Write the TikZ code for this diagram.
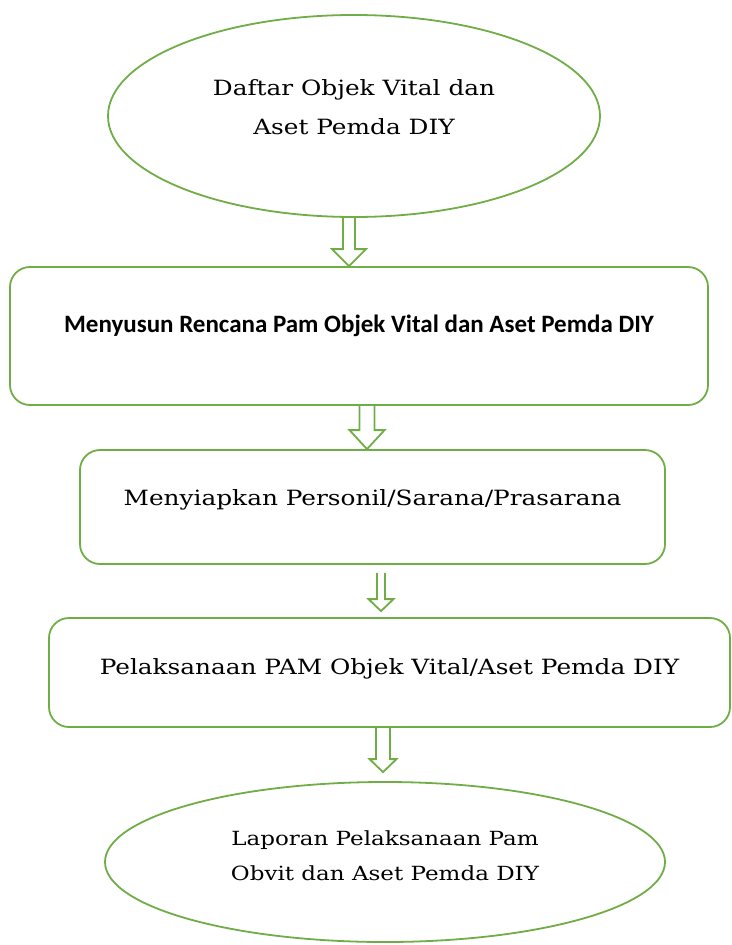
\documentclass[tikz,border=0pt]{standalone}
\usepackage{fontspec}
\usetikzlibrary{shapes.geometric,calc}
\newfontfamily\slabfont[FakeStretch=1.18]{DejaVu Serif}
\newfontfamily\boxfont{Carlito}
\definecolor{flowgreen}{RGB}{112,173,71}

\tikzset{
  outline/.style={draw=flowgreen, line width=1.8pt},
  oval/.style={outline, ellipse, inner sep=0pt},
  stepbox/.style={outline, rounded corners=20pt, inner sep=0pt},
  slabtext/.style={font=\slabfont\fontsize{21}{39}\selectfont, align=center, inner sep=0pt},
  sanstext/.style={font=\boxfont\bfseries\fontsize{25}{30}\selectfont, inner sep=0pt},
}

% hollow block arrow: shaft x, half shaft, half head, head length, from, to
\newcommand\blockarrow[6]{%
  \draw[outline, line join=miter] let \p1 = (#5), \p2 = (#6) in
    (#1pt-#2pt,\y1) -- (#1pt-#2pt,\y2+#4pt) -- (#1pt-#3pt,\y2+#4pt) -- (#1pt,\y2)
    -- (#1pt+#3pt,\y2+#4pt) -- (#1pt+#2pt,\y2+#4pt) -- (#1pt+#2pt,\y1);}

\begin{document}
\begin{tikzpicture}[x=1pt,y=-1pt]
  \useasboundingbox (0,0) rectangle (731,945);

  % shapes
  \node[oval, minimum width=492pt, minimum height=202pt] (e1) at (354,116) {};
  \node[stepbox, minimum width=698pt, minimum height=138pt] (b2) at (359,336) {};
  \node[stepbox, minimum width=585pt, minimum height=114pt] (b3) at (372.5,507) {};
  \node[stepbox, minimum width=681pt, minimum height=109pt] (b4) at (389.5,672.5) {};
  \node[oval, minimum width=560pt, minimum height=160pt] (e5) at (385,862) {};

  % texts
  \node[slabtext] (t1) at ([yshift=9pt]e1.center) {Daftar Objek Vital dan\\Aset Pemda DIY};
  \node[sanstext] (t2) at ([yshift=10pt]b2.center) {Menyusun Rencana Pam Objek Vital dan Aset Pemda DIY};
  \node[slabtext] (t3) at ([yshift=7pt]b3.center) {Menyiapkan Personil/Sarana/Prasarana};
  \node[slabtext] (t4) at ([yshift=4pt]b4.center) {Pelaksanaan PAM Objek Vital/Aset Pemda DIY};
  \node[slabtext, font=\slabfont\fontsize{19.5}{35}\selectfont] (t5) at ([yshift=6pt]e5.center)
    {Laporan Pelaksanaan Pam\\Obvit dan Aset Pemda DIY};

  % arrows
  \blockarrow{349}{6}{17}{17}{e1.south}{b2.north}
  \blockarrow{367}{7.5}{17.5}{19}{b2.south}{b3.north}
  \blockarrow{381}{4}{12.5}{12}{[yshift=-8pt]b3.south}{[yshift=6pt]b4.north}
  \blockarrow{383}{7}{13.5}{13}{b4.south}{[yshift=9pt]e5.north}
\end{tikzpicture}
\end{document}
